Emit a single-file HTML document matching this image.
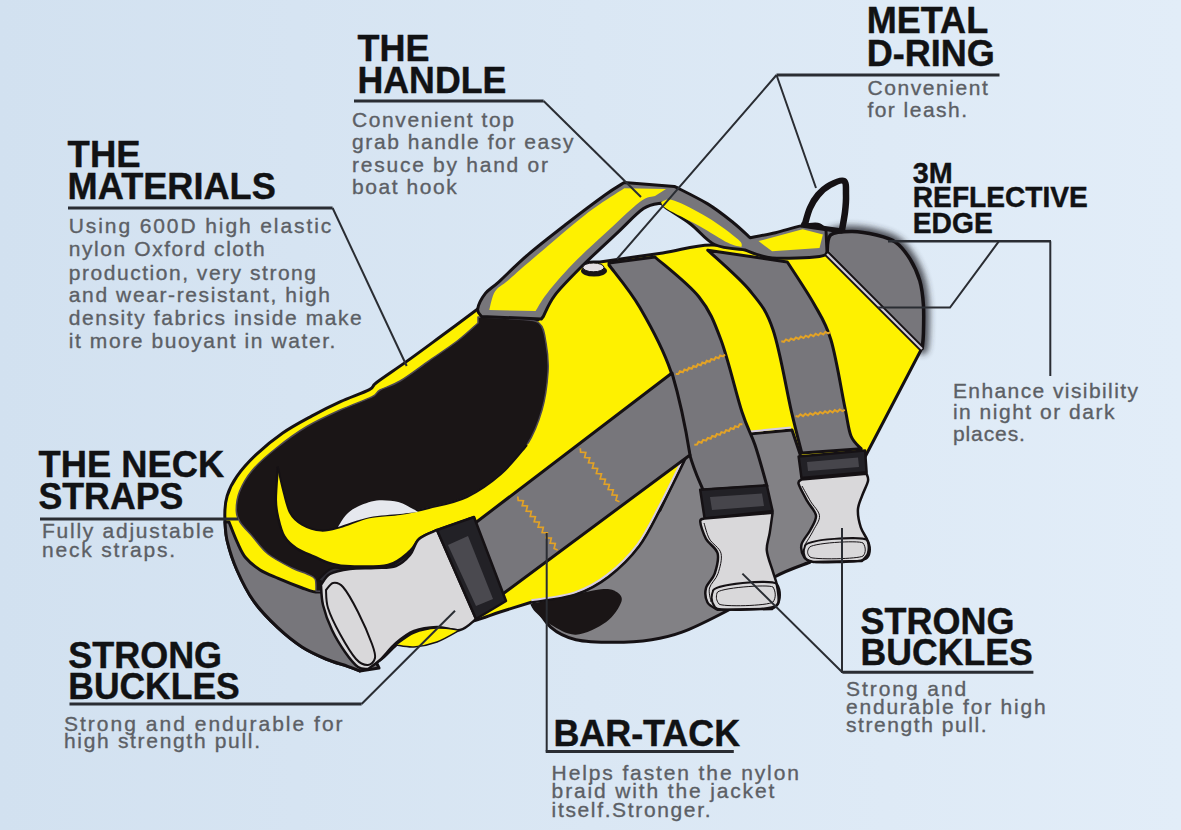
<!DOCTYPE html>
<html><head><meta charset="utf-8"><style>
html,body{margin:0;padding:0;width:1181px;height:830px;overflow:hidden;}
svg{display:block}
.h{font-family:"Liberation Sans",sans-serif;font-weight:bold;fill:#111214;stroke:#111214;stroke-width:0.4}
.b{font-family:"Liberation Sans",sans-serif;fill:#5c5f65;stroke:#5c5f65;stroke-width:0.35}
</style></head><body>
<svg width="1181" height="830" viewBox="0 0 1181 830">
<defs>
 <filter id="blur3" x="-20%" y="-20%" width="140%" height="140%"><feGaussianBlur stdDeviation="3"/></filter>
 <linearGradient id="bg" x1="0" y1="0" x2="1" y2="0"><stop offset="0" stop-color="#d2e1f0"/><stop offset="1" stop-color="#e2edf8"/></linearGradient>
</defs>
<rect width="1181" height="830" fill="url(#bg)"/>
<g stroke-linejoin="round"><path d="M827,254.3 C827.6,251.1 826.4,238.8 830.6,235 C834.8,231.2 844.7,231.4 852.3,231.4 C859.9,231.4 869.2,233.2 876.4,235 C883.6,236.8 890.1,238.3 895.7,242.3 C901.3,246.3 906,252.6 910,259 C914,265.4 917.6,273.1 919.8,280.8 C922,288.5 922.8,296.1 923.4,305 C924,313.9 923.6,326.7 923.4,333.9 C923.2,341.1 922.4,345.9 922.2,348.3 L827,254.3 Z" fill="#2a2a30" stroke="#2a2a30" stroke-width="12" filter="url(#blur3)" opacity="0.8"/>
<path d="M827,254.3 C827.6,251.1 826.4,238.8 830.6,235 C834.8,231.2 844.7,231.4 852.3,231.4 C859.9,231.4 869.2,233.2 876.4,235 C883.6,236.8 890.1,238.3 895.7,242.3 C901.3,246.3 906,252.6 910,259 C914,265.4 917.6,273.1 919.8,280.8 C922,288.5 922.8,296.1 923.4,305 C924,313.9 923.6,326.7 923.4,333.9 C923.2,341.1 922.4,345.9 922.2,348.3 L827,254.3 Z" fill="#77767b" stroke="#151114" stroke-width="3.5" />
<path d="M532.9,601.8 C535.9,606 543.4,620.8 550.6,627.1 C557.8,633.4 565.4,637.2 575.9,639.7 C586.4,642.2 601.2,642.3 613.8,642.3 C626.4,642.3 640.3,641.4 651.7,639.7 C663.1,638 670.6,636.4 682,632.2 C693.4,628 709.5,619.9 720,614.5 C730.5,609.1 735.8,606.3 745,600 C754.2,593.7 764.6,582.8 775.5,576.5 C786.4,570.2 804.4,564.4 810.2,562 L862,478 L858,452 L792,428 L749,432 L688,450 L660,510 L600,580 L532.9,601.8 Z" fill="#828185" stroke="#151114" stroke-width="3" />
<path d="M530.3,604.3 C535.8,603 551.4,599.3 563.2,596.8 C575,594.3 592.2,590.1 601.1,589.2 C610,588.4 612.9,589.6 616.3,591.7 C619.7,593.8 623.1,596.8 621.4,601.8 C619.7,606.8 613.8,616.5 606.2,622 C598.6,627.5 585.2,634.3 575.9,634.7 C566.6,635.1 557.4,628.4 550.6,624.6 C543.9,620.8 538.8,615.4 535.4,612 C532,608.6 531.1,605.6 530.3,604.3 Z" fill="#1a1516" />
<path d="M359.8,671 C357.8,670.2 353.3,668.3 347.7,666.3 C342.1,664.3 333.6,662.2 326,659 C318.4,655.8 310,652.2 302,647 C294,641.8 285.9,635.3 277.8,627.7 C269.8,620.1 260.5,610.8 253.7,601.2 C246.9,591.6 241.3,580 236.9,570 C232.5,560 229.2,550.2 227.2,541 C225.2,531.8 224.8,522.5 224.8,515 C224.8,507.4 225.2,502.1 227.2,495.7 C229.2,489.3 232.1,483.2 236.9,476.4 C241.7,469.6 248.5,461.9 256.1,454.7 C263.7,447.5 273.4,439.4 282.7,433 C291.9,426.6 302,421.3 311.6,416.1 C321.2,410.9 330.9,406.1 340.5,401.7 C350.1,397.3 363.4,392.8 369.4,389.6 C375.4,386.4 370.4,387.2 376.6,382.5 C382.8,377.8 396.1,369 406.7,361.4 C417.3,353.8 428.2,345.7 440,337 C451.8,328.3 471.4,313.7 477.7,309 L538,320 C540,316.3 543.3,307 550,298 C556.7,289 569.7,272 578,266 C586.3,260 596.3,262.7 600,262 C610.5,260.5 644.3,255.7 662.8,252.9 C681.3,250.1 692.8,245.3 711,245 C729.2,244.7 752.7,249.8 772,251 C791.3,252.2 817.8,251.8 827,252 L922,348 L865,457 L801,457 L792,430 L749,434 L700,440 L688,452 C686.6,455.1 683.9,461.4 679.5,470.3 C675.1,479.2 668.5,493 661.8,505.7 C655,518.4 647.9,534.4 639,546.2 C630.1,558 619.2,568.5 608.7,576.5 C598.2,584.5 588.5,590 575.9,594.2 C563.3,598.4 540.1,600.5 532.9,601.8 C527.4,603.5 509.8,608.9 500,612 C490.2,615.1 484.5,618 474,620.7 C463.5,623.4 443.2,626.8 437,628 C433.2,628.5 420.8,628.2 414,631 C407.2,633.8 401.7,640.2 396,645 C390.3,649.8 386,655.7 380,660 C374,664.3 363.2,669.2 359.8,671 Z" fill="#fef100" stroke="#151114" stroke-width="3" />
<path d="M686.4,450.4 C685,453.4 682.3,459.8 677.9,468.7 C673.5,477.6 666.9,491.4 660.2,504.1 C653.4,516.8 646.2,532.8 637.4,544.6 C628.5,556.4 617.6,566.9 607.1,574.9 C596.6,582.9 586.9,588.4 574.3,592.6 C561.7,596.8 538.5,598.9 531.3,600.2" fill="none" stroke="#d6cde4" stroke-width="2" />
<path d="M750,431.5 L791,427.5" fill="none" stroke="#d6cde4" stroke-width="2" />
<path d="M225,522 C225.4,525.2 225.2,533 227.2,541 C229.2,549 232.5,560 236.9,570 C241.3,580 246.9,591.6 253.7,601.2 C260.5,610.8 269.8,620.1 277.8,627.7 C285.9,635.3 294,641.8 302,647 C310,652.2 318.4,655.8 326,659 C333.6,662.2 342.1,664.3 347.7,666.3 C353.3,668.3 357.8,670.2 359.8,671 L379,668 L340,588 L323.6,591.6 C321.9,591.9 316.7,592.3 313.1,591.6 C309.6,590.9 308.1,590.2 302.3,588 C296.5,585.8 285.2,581.3 278.2,578.3 C271.2,575.3 265.5,573.3 260.1,569.9 C254.7,566.5 249.5,562.4 245.7,557.8 C241.9,553.2 240,548.2 237.2,542.2 C234.4,536.2 230.4,525.4 229,522 L225,522 Z" fill="#77767b" stroke="#151114" stroke-width="3" />
<path d="M478,317 C484.3,317.3 505.8,318 516,319 C526.2,320 534,319 539,323 C544,327 544.5,334.8 546,343 C547.5,351.2 548.7,360.8 548,372 C547.3,383.2 545.5,397.8 542,410 C538.5,422.2 533.8,434.3 527,445 C520.2,455.7 511,465.3 501,474 C491,482.7 479,491.3 467,497 C455,502.7 440.2,505.2 429,508 C417.8,510.8 404.8,513 400,514 L430,545 L400,580 L330,592 L316,591 C315.8,589 316.5,581.8 315,579 C313.5,576.2 310.8,575.8 307,574 C303.2,572.2 298.5,571.3 292,568 C285.5,564.7 274.7,559.3 268,554 C261.3,548.7 256.7,541.3 252,536 C247.3,530.7 242.6,526.2 240,522 C237.4,517.8 236.4,516.1 236.3,511 C236.2,505.9 236.8,498.4 239.5,491.6 C242.2,484.8 246.3,477.3 252.5,470 C258.6,462.7 267.3,455.2 276.4,448 C285.4,440.8 296.2,432.8 306.8,426.5 C317.4,420.2 329.2,414.9 340,410 C350.8,405.1 365.1,400.2 371.8,396.9 C378.5,393.6 375.3,392.6 380,390 C384.7,387.4 391.9,385.9 400,381 C408.1,376.1 419.2,367.6 428.9,360.8 C438.5,354.1 449.7,346.8 457.9,340.5 C466.1,334.2 474.6,325.9 478,323 L478,317 Z" fill="#1a1516" stroke="#4d4852" stroke-width="1.5" />
<path d="M277.8,466.7 C277.5,472.2 275.7,491.4 275.8,500 C275.9,508.6 276.8,512 278.2,518 C279.6,524 281.2,531.1 284.2,536.1 C287.2,541.1 291.3,544.8 296.3,548.2 C301.3,551.6 308.3,554 314.3,556.6 C320.3,559.2 326.4,562.3 332.4,563.9 C338.3,565.5 340.7,566.1 350,566.3 C359.3,566.5 378,567.5 388,565 C398,562.5 404.7,555.5 410,551 C415.3,546.5 415.5,541.5 420,538 C424.5,534.5 434.2,531.3 437,530 L480,540 L600,440 L560,420 L527,445 C522.7,449.8 511,465.3 501,474 C491,482.7 479,491.3 467,497 C455,502.7 440.2,505.2 429,508 C417.8,510.8 409.9,512.5 400,514 C390.1,515.5 379.3,515.1 369.4,517.3 C359.5,519.5 348.5,524.8 340.5,527 C332.5,529.2 327.6,531 321.2,530.6 C314.8,530.2 307.2,527.6 302,524.6 C296.8,521.6 293.1,518.5 289.9,512.5 C286.7,506.5 284.7,496 282.7,488.4 C280.7,480.8 278.6,470.3 277.8,466.7 Z" fill="#fef100" />
<path d="M277.8,466.7 C277.5,472.2 275.7,491.4 275.8,500 C275.9,508.6 276.8,512 278.2,518 C279.6,524 281.2,531.1 284.2,536.1 C287.2,541.1 291.3,544.8 296.3,548.2 C301.3,551.6 308.3,554 314.3,556.6 C320.3,559.2 326.4,562.3 332.4,563.9 C338.3,565.5 340.7,566.1 350,566.3 C359.3,566.5 378,567.5 388,565 C398,562.5 404.7,555.5 410,551 C415.3,546.5 415.5,541.5 420,538 C424.5,534.5 434.2,531.3 437,530" fill="none" stroke="#151114" stroke-width="2.5" />
<path d="M527,445 C522.7,449.8 511,465.3 501,474 C491,482.7 479,491.3 467,497 C455,502.7 440.2,505.2 429,508 C417.8,510.8 409.9,512.5 400,514 C390.1,515.5 379.3,515.1 369.4,517.3 C359.5,519.5 348.5,524.8 340.5,527 C332.5,529.2 327.6,531 321.2,530.6 C314.8,530.2 307.2,527.6 302,524.6 C296.8,521.6 293.1,518.5 289.9,512.5 C286.7,506.5 284.7,496 282.7,488.4 C280.7,480.8 278.6,470.3 277.8,466.7" fill="none" stroke="#151114" stroke-width="2" />
<path d="M338,527 C339.3,525 342.8,518.3 346,515 C349.2,511.7 351.9,509.4 357,507 C362.1,504.6 369.7,501.3 376.6,500.5 C383.5,499.7 392.2,500.6 398.3,502 C404.4,503.4 409.7,507.3 413,509 C416.3,510.7 417.2,511.5 418,512 C415,512.3 408.1,513.1 400,514 C391.9,514.9 379.7,515.1 369.4,517.3 C359.1,519.5 343.2,525.4 338,527 Z" fill="#e6e8ee" />
<path d="M318,580 C320.5,578 326.8,569.5 333,568 C339.2,566.5 345.8,571.2 355,571 C364.2,570.8 378.8,570 388,567 C397.2,564 404.7,557.5 410,553 C415.3,548.5 415.5,543.8 420,540 C424.5,536.2 428,533.8 437,530 C446,526.2 467.8,519.2 474,517 L480,545 L437,560 L400,585 L340,590 L318,580 Z" fill="#2e2c33" stroke="#151114" stroke-width="2" />
<path d="M609,265 C614.2,272.1 629.7,290 640,307.7 C650.3,325.4 662.5,346.8 670.7,371 C678.9,395.2 683.8,433.1 689.2,452.9 C694.6,472.7 700.7,483.8 703,490 L767,486 C765,479.2 759.2,457.3 755,445 C750.8,432.7 747.7,429.5 742,412 C736.3,394.5 728.2,359.2 721,340 C713.8,320.8 710,310.8 699,297 C688,283.2 662.3,263.7 655,257 L609,263 L609,265 Z" fill="#77767b" stroke="#151114" stroke-width="3" />
<path d="M707.7,250.2 C714.8,257 739.1,277.5 750,290.8 C760.9,304.1 766.2,309.8 773.1,330 C780,350.2 786.7,391.4 791.5,411.9 C796.3,432.4 800.1,446.1 801.8,452.9 L861.2,448.8 C859.5,446.7 853.7,442.8 851,436 C848.3,429.2 848.3,424 845,408 C841.7,392 836.2,357.3 831,340 C825.8,322.7 821.3,317 814,304 C806.7,291 791.8,269 787.3,262 L707.7,250.2 Z" fill="#77767b" stroke="#151114" stroke-width="3" />
<path d="M470,527 L672,373 C680,400 686,430 690,455 L500,596 Z" fill="#77767b" stroke="#151114" stroke-width="3" />
<path d="M437,530 C434,531.5 423.5,534.8 419,539 C414.5,543.2 413.8,550.5 410,555 C406.2,559.5 401.8,563.8 396,566 C390.2,568.2 382.7,567.5 375,568 C367.3,568.5 357.5,568 350,569 C342.5,570 334.8,571.3 330,574 C325.2,576.7 322.5,583.2 321,585 C321.3,588.3 321.2,597.5 323,605 C324.8,612.5 328.3,622.2 332,630 C335.7,637.8 340.7,645.8 345,652 C349.3,658.2 354.2,664.2 358,667 C361.8,669.8 366.3,668.7 368,669 C370,667.5 375.3,664.3 380,660 C384.7,655.7 390.3,647.8 396,643 C401.7,638.2 407.2,633.7 414,631 C420.8,628.3 429.3,627.2 437,627 C444.7,626.8 453.5,631.3 460,630 C466.5,628.7 473.3,620.8 476,619 L437,530 Z" fill="#d9d8da" stroke="#151114" stroke-width="2.5" />
<path d="M326,590 C327.2,588.8 330.2,583.5 333,583 C335.8,582.5 338.8,582.2 343,587 C347.2,591.8 353.2,602.5 358,612 C362.8,621.5 369.2,636.3 372,644 C374.8,651.7 375.7,654.5 375,658 C374.3,661.5 371.2,664.8 368,665 C364.8,665.2 360.7,664.2 356,659 C351.3,653.8 344.7,642.5 340,634 C335.3,625.5 330.3,615.3 328,608 C325.7,600.7 326.3,593 326,590 Z" fill="none" stroke="#151114" stroke-width="2" />
<path d="M396,645 C399,643 407.2,635.8 414,633 C420.8,630.2 429.3,628.5 437,628 C444.7,627.5 456.2,629.7 460,630 C456.2,632 444.7,639.2 437,642 C429.3,644.8 420.8,646.5 414,647 C407.2,647.5 399,645.3 396,645 Z" fill="#fef100" stroke="#151114" stroke-width="1.5" />
<path d="M437,530 L474,517 L506,601 L476,619 Z" fill="#222126" stroke="#151114" stroke-width="2.5" />
<path d="M448,545 L468,536 L493,599 L476,606 Z" fill="#4a494f" />
<path d="M700.2,489.7 L766.8,485.3 L772.6,511 L704.6,518.6 Z" fill="#222126" stroke="#151114" stroke-width="2.5" />
<path d="M710,497 L762,493.5 L764,506 L712,510 Z" fill="#46454b" />
<path d="M704.6,518.6 L772.6,512.8 C772.1,516.2 770.7,526.7 769.7,533 C768.7,539.3 766.3,544.1 766.8,550.4 C767.3,556.7 770.9,564.9 772.6,570.7 C774.3,576.5 775.9,579.7 776.9,585 C777.9,590.3 779.2,598.5 778.4,602.5 C777.6,606.5 773.1,607.9 772,609 L717.6,609.7 C715.9,608.5 709.4,606.1 707.5,602.5 C705.6,598.9 704.8,592.8 706,588 C707.2,583.2 712.8,579.4 714.7,573.6 C716.6,567.8 719.1,559.1 717.6,553.3 C716.1,547.5 708.9,544.1 706,538.8 C703.1,533.5 700.4,524.9 700.2,521.5 C700,518.1 703.9,519.1 704.6,518.6 Z" fill="#d9d8da" stroke="#151114" stroke-width="2.5" />
<path d="M713,591 C713,584 771,579 777,584 C781,590 781,600 777,605 C771,610 719,612 715,607 C711,602 711,596 713,591 Z" fill="none" stroke="#151114" stroke-width="2" />
<path d="M717,593 C717,588 768,584 773,587 C776,592 776,598 773,602 C768,606 722,607 719,604 C716,600 716,597 717,593 Z" fill="none" stroke="#151114" stroke-width="1" />
<path d="M704,523 C704.9,525.7 706.7,534 709.5,539 C712.3,544 719.6,547.5 721,553.3 C722.4,559.1 719.9,567.8 718,573.6 C716.1,579.4 710.7,583.3 709.5,588 C708.3,592.7 710.8,599.7 711,602" fill="none" stroke="#151114" stroke-width="1" />
<path d="M798.6,456.4 L865.1,450.6 L866.6,472.3 L801.5,478.1 Z" fill="#222126" stroke="#151114" stroke-width="2.5" />
<path d="M807,462 L858,457.5 L859,467 L808,471 Z" fill="#46454b" />
<path d="M801.5,479.5 L866.6,473.8 C866.8,475 868.7,477.4 868,481 C867.3,484.6 863.9,490.7 862.2,495.5 C860.5,500.3 858.1,504.7 857.9,510 C857.7,515.3 859.1,522 860.8,527.3 C862.5,532.6 866.8,537.4 868,541.7 C869.2,546 869,550.1 868,553.3 C867,556.5 863,559.7 862,561 L813,562 C811.6,561.3 806.3,560.5 804.4,557.6 C802.5,554.7 800.5,549.2 801.5,544.6 C802.5,540 807.8,535 810.2,530.2 C812.6,525.4 816.5,520.5 816,515.7 C815.5,510.9 810.2,506.5 807.3,501.2 C804.4,495.9 799.6,487.5 798.6,483.9 C797.6,480.3 801,480.2 801.5,479.5 Z" fill="#d9d8da" stroke="#151114" stroke-width="2.5" />
<path d="M805,546 C805,539 862,536 867,540 C871,545 871,554 867,558 C862,563 811,564 807,560 C803,556 803,551 805,546 Z" fill="none" stroke="#151114" stroke-width="2" />
<path d="M809,548 C809,543 859,540 863,543 C866,547 866,553 863,556 C859,559 813,560 810,557 C807,554 807,551 809,548 Z" fill="none" stroke="#151114" stroke-width="1" />
<path d="M802,486 C803.4,488.5 807.6,496.2 810.5,501.2 C813.4,506.1 819,510.9 819.5,515.7 C820,520.5 815.9,525.4 813.5,530.2 C811.1,535 806.4,542.2 805,544.6" fill="none" stroke="#151114" stroke-width="1" />
<ellipse cx="594" cy="271" rx="13" ry="5.5" fill="#1a1516"/>
<path d="M481.6,316.5 C481,315.2 477.1,312.9 477.7,309 C478.3,305.1 481.9,297.9 485.4,293.4 C488.9,288.9 491.8,288.2 498.9,281.8 C506,275.4 516.5,264.4 527.8,254.8 C539,245.2 553.5,234 566.4,224 C579.3,214 595.4,201.9 605,195 C614.6,188.1 621.1,184.6 624.3,182.5 L674.4,186.4 C680,189.3 697.9,197.9 707.7,203.9 C717.5,209.9 726.1,216.9 733.1,222.5 C740.1,228.1 747.2,235.2 750,237.7 C754.2,236.9 767,234.7 775.5,232.7 C784,230.7 793.9,227.3 800.9,225.9 C807.9,224.5 813.6,223.5 817.8,224.2 C822,224.9 824.6,229 826,230 L827,252 C825.8,252.7 828.6,255.4 819.5,256.4 C810.4,257.4 784.5,259.1 772.1,258 C759.7,256.9 749.5,251.3 745,250 C739.9,249.1 723.5,248.8 714.5,244.5 C705.5,240.2 699,230.4 690.8,224.2 C682.6,218 670.2,210.8 665.4,207.3 C660.6,203.8 662.6,203.7 662,203 C658.9,203.9 651.1,203.5 643.5,208.6 C635.9,213.7 626.8,224 616.5,233.6 C606.2,243.2 592.1,256.1 581.8,266.4 C571.5,276.7 561.2,286.9 554.8,295.3 C548.4,303.7 545.2,313 543.3,316.5 L541.3,319 L481.6,316.5 Z" fill="#77767b" stroke="#151114" stroke-width="3" />
<path d="M489.3,310 C490.2,306.9 491.8,296.5 495,291.5 C498.2,286.5 501.5,286 508.6,279.9 C515.7,273.8 524.6,265.7 537.5,254.8 C550.4,243.9 571.2,225.5 585.7,214.4 C600.2,203.3 617.9,192.7 624.3,188.3 L666,189 L655,196 C652.5,197 648,195.7 639.7,202 C631.4,208.3 616.2,223.2 605,233.6 C593.8,244 581.9,254.5 572.2,264.5 C562.5,274.5 553.1,285.6 547,293.4 C540.9,301.1 537.5,308.1 535.6,311 L489.3,310 Z" fill="#fef100" />
<path d="M661,202 C663.1,201.8 666.1,197.9 673.9,200.5 C681.7,203.1 697,210.9 707.7,217.4 C718.4,223.9 732.6,234.5 738.2,239.4 C743.9,244.3 741,245.7 741.6,247 C739.3,246.3 735,246.3 728,242.8 C721,239.3 709.5,231.5 699.3,225.9 C689.1,220.3 673.4,213 667,209 C660.6,205 662,203.2 661,202 Z" fill="#fef100" />
<path d="M758.5,241.1 L802.6,229.3 L822.9,234.4 L819.5,247.9 L772.1,251.3 L758.5,241.1 Z" fill="#fef100" />
<ellipse cx="593.4" cy="267.4" rx="10.6" ry="4.4" fill="#e5e0e3" stroke="#151114" stroke-width="1"/>
<path d="M805,224 C805.8,221.3 807.8,212.8 810,208 C812.2,203.2 814.7,198.8 818,195 C821.3,191.2 825.7,187.3 830,185 C834.3,182.7 841.3,179.3 844,181 C846.7,182.7 845.8,189.8 846,195 C846.2,200.2 845.7,206.2 845,212 C844.3,217.8 842.5,227 842,230" fill="none" stroke="#151114" stroke-width="6.5" stroke-linecap="round"/>
<path d="M801,225 L842,231" fill="none" stroke="#151114" stroke-width="5" />
<path d="M827,254 L922,349" fill="none" stroke="#151114" stroke-width="6" />
<path d="M827,254 L922,349" fill="none" stroke="#cfcbd6" stroke-width="2.2" />
<g stroke="#e2a226" stroke-width="2" fill="none" stroke-linejoin="miter"><path d="M675.8,374 L678.4,374 L679.9,371.3 L682.9,372.3 L684.4,369.5 L687.3,370.5 L688.9,367.8 L691.8,368.8 L693.3,366 L696.3,367 L697.8,364.3 L700.8,365.2 L702.3,362.5 L705.2,363.5 L706.7,360.7 L709.7,361.7 L711.2,359 L714.2,359.9 L715.7,357.2 L718.7,358.2 L720.2,355.4 L723.1,356.4 L725,354.6"/><path d="M694.3,444.7 L697,444.6 L698.5,441.8 L701.6,442.7 L703.1,439.9 L706.1,440.7 L707.7,437.9 L710.7,438.8 L712.2,436 L715.3,436.8 L716.8,434 L719.9,434.9 L721.4,432.1 L724.5,432.9 L726,430.1 L729,431 L730.6,428.2 L733.6,429 L735.1,426.2 L738.2,427.1 L739.7,424.3 L742.4,424.2"/><path d="M781.3,341.3 L783.9,341.8 L786,339.4 L788.9,340.9 L791,338.5 L793.8,340 L795.9,337.5 L798.7,339 L800.8,336.6 L803.6,338.1 L805.7,335.7 L808.5,337.2 L810.6,334.7 L813.5,336.2 L815.6,333.8 L818.4,335.3 L820.5,332.9 L823.3,334.4 L825.4,331.9 L828.2,333.4 L830.5,332"/><path d="M795.6,416 L798.2,416.7 L800.4,414.4 L803.1,416.1 L805.3,413.8 L808,415.5 L810.2,413.2 L812.9,414.9 L815.2,412.6 L817.9,414.2 L820.1,412 L822.8,413.6 L825,411.3 L827.7,413 L829.9,410.7 L832.6,412.4 L834.8,410.1 L837.5,411.8 L839.8,409.5 L842.5,411.2 L844.8,409.9"/></g>
<g stroke="#e2a226" stroke-width="1.7" fill="none" stroke-linejoin="miter"><path d="M517.8,496.5 L518.2,500.4 L523.4,500.7 L522.2,505.7 L527.4,506 L526.2,511.1 L531.4,511.4 L530.2,516.4 L535.4,516.7 L534.2,521.8 L539.4,522.1 L538.1,527.1 L543.3,527.4 L542.1,532.5 L547.3,532.8 L546.1,537.8 L551.3,538.1 L550.1,543.2 L555.3,543.5 L554.1,548.5 L557.7,550"/><path d="M580.3,448.3 L580.6,452.2 L585.8,452.5 L584.6,457.5 L589.8,457.8 L588.5,462.8 L593.7,463.1 L592.4,468.2 L597.6,468.5 L596.3,473.5 L601.5,473.8 L600.2,478.9 L605.4,479.2 L604.2,484.2 L609.4,484.5 L608.1,489.5 L613.3,489.8 L612,494.9 L617.2,495.2 L615.9,500.2 L619.5,501.7"/></g></g>
<g stroke="#2a2d33" fill="none">
 <path d="M354,101 H543.6" stroke-width="3"/><path d="M543.6,101 L641,197" stroke-width="2"/>
 <path d="M68,208 H332.6" stroke-width="3"/><path d="M332.6,208 L406.7,366" stroke-width="2"/>
 <path d="M776.5,75 H999.5" stroke-width="3"/><path d="M776.5,75 L617,259 M776.5,75 L816,188" stroke-width="2"/>
 <path d="M888,241.2 H1051" stroke-width="2.5"/><path d="M999,241.2 L950,307.5 H878 M1050.3,241.2 V376" stroke-width="2"/>
 <path d="M40,518.9 H238" stroke-width="3"/>
 <path d="M69.5,704 H361.6" stroke-width="3"/><path d="M361.6,704 L455,610.7" stroke-width="2"/>
 <path d="M546.7,533 V751.6" stroke-width="2"/><path d="M545.7,751.6 H733.8" stroke-width="3"/>
 <path d="M842.4,672.3 H1033.4" stroke-width="3"/><path d="M842,673 V528 M842,672 L742.4,573.6" stroke-width="2"/>
</g>
<text x="357.5" y="60.9" font-size="36" textLength="71.9" lengthAdjust="spacingAndGlyphs" class="h">THE</text><text x="357.5" y="93.3" font-size="36" textLength="148.9" lengthAdjust="spacingAndGlyphs" class="h">HANDLE</text><text x="352.1" y="127.4" font-size="21" textLength="161.79999999999995" lengthAdjust="spacing" class="b">Convenient top</text><text x="352.1" y="148.8" font-size="21" textLength="221.29999999999995" lengthAdjust="spacing" class="b">grab handle for easy</text><text x="352.1" y="171.9" font-size="21" textLength="195.89999999999998" lengthAdjust="spacing" class="b">resuce by hand or</text><text x="352.1" y="193.9" font-size="21" textLength="104.59999999999997" lengthAdjust="spacing" class="b">boat hook</text><text x="67.6" y="166.6" font-size="36" textLength="73.0" lengthAdjust="spacingAndGlyphs" class="h">THE</text><text x="67.6" y="198.6" font-size="36" textLength="208.2" lengthAdjust="spacingAndGlyphs" class="h">MATERIALS</text><text x="68.8" y="233.1" font-size="21" textLength="262.4" lengthAdjust="spacing" class="b">Using 600D high elastic</text><text x="68.8" y="256.1" font-size="21" textLength="195.89999999999998" lengthAdjust="spacing" class="b">nylon Oxford cloth</text><text x="68.8" y="279.6" font-size="21" textLength="247.2" lengthAdjust="spacing" class="b">production, very strong</text><text x="68.8" y="301.8" font-size="21" textLength="261.09999999999997" lengthAdjust="spacing" class="b">and wear-resistant, high</text><text x="68.8" y="324.8" font-size="21" textLength="292.9" lengthAdjust="spacing" class="b">density fabrics inside make</text><text x="68.8" y="347.5" font-size="21" textLength="266.59999999999997" lengthAdjust="spacing" class="b">it more buoyant in water.</text><text x="38.5" y="476.6" font-size="36" textLength="185.7" lengthAdjust="spacingAndGlyphs" class="h">THE NECK</text><text x="38.5" y="508.8" font-size="36" textLength="144.8" lengthAdjust="spacingAndGlyphs" class="h">STRAPS</text><text x="42" y="538.3" font-size="21" textLength="172" lengthAdjust="spacing" class="b">Fully adjustable</text><text x="42" y="556.8" font-size="21" textLength="133.1" lengthAdjust="spacing" class="b">neck straps.</text><text x="68.3" y="667.6" font-size="36" textLength="153.8" lengthAdjust="spacingAndGlyphs" class="h">STRONG</text><text x="68.3" y="698.8" font-size="36" textLength="171.4" lengthAdjust="spacingAndGlyphs" class="h">BUCKLES</text><text x="64" y="730.7" font-size="21" textLength="278.6" lengthAdjust="spacing" class="b">Strong and endurable for</text><text x="64" y="748.3" font-size="21" textLength="196" lengthAdjust="spacing" class="b">high strength pull.</text><text x="553.4" y="746.0" font-size="36" textLength="186.7" lengthAdjust="spacingAndGlyphs" class="h">BAR-TACK</text><text x="551.6" y="779.8" font-size="21" textLength="247.29999999999995" lengthAdjust="spacing" class="b">Helps fasten the nylon</text><text x="551.6" y="798.2" font-size="21" textLength="222.69999999999993" lengthAdjust="spacing" class="b">braid with the jacket</text><text x="551.6" y="816.6" font-size="21" textLength="158.89999999999998" lengthAdjust="spacing" class="b">itself.Stronger.</text><text x="866.7" y="33.2" font-size="36" textLength="121.5" lengthAdjust="spacingAndGlyphs" class="h">METAL</text><text x="866.7" y="65.6" font-size="36" textLength="128.1" lengthAdjust="spacingAndGlyphs" class="h">D-RING</text><text x="867.4" y="94.7" font-size="21" textLength="120.5" lengthAdjust="spacing" class="b">Convenient</text><text x="867.4" y="116.7" font-size="21" textLength="99.6" lengthAdjust="spacing" class="b">for leash.</text><text x="912.8" y="182.7" font-size="29.5" textLength="40.0" lengthAdjust="spacingAndGlyphs" class="h">3M</text><text x="912.8" y="207.4" font-size="29.5" textLength="175.1" lengthAdjust="spacingAndGlyphs" class="h">REFLECTIVE</text><text x="912.8" y="232.7" font-size="29.5" textLength="79.9" lengthAdjust="spacingAndGlyphs" class="h">EDGE</text><text x="952.9" y="398.2" font-size="21" textLength="185.10000000000002" lengthAdjust="spacing" class="b">Enhance visibility</text><text x="952.9" y="418.8" font-size="21" textLength="161.60000000000002" lengthAdjust="spacing" class="b">in night or dark</text><text x="952.9" y="441" font-size="21" textLength="72.00000000000011" lengthAdjust="spacing" class="b">places.</text><text x="860.5" y="633.9" font-size="36" textLength="153.9" lengthAdjust="spacingAndGlyphs" class="h">STRONG</text><text x="860.5" y="664.8" font-size="36" textLength="172.2" lengthAdjust="spacingAndGlyphs" class="h">BUCKLES</text><text x="846" y="695.7" font-size="21" textLength="120.29999999999995" lengthAdjust="spacing" class="b">Strong and</text><text x="846" y="714" font-size="21" textLength="199.5999999999999" lengthAdjust="spacing" class="b">endurable for high</text><text x="846" y="732.2" font-size="21" textLength="140.60000000000002" lengthAdjust="spacing" class="b">strength pull.</text>
</svg></body></html>
